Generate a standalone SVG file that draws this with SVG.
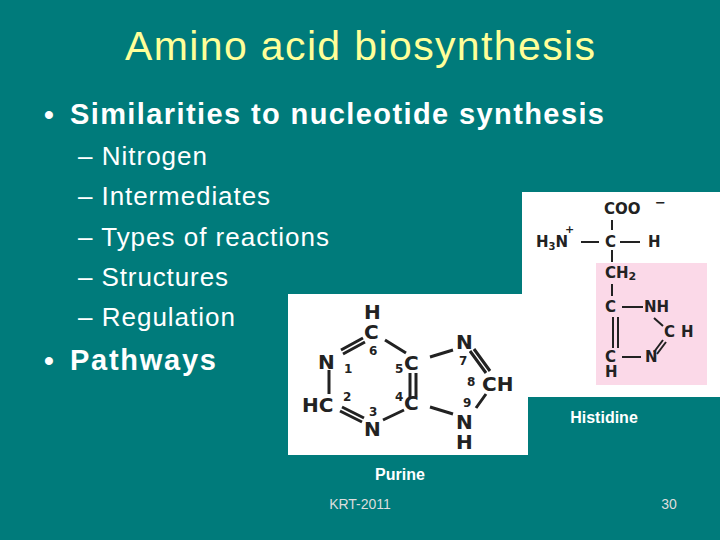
<svg xmlns="http://www.w3.org/2000/svg" width="720" height="540" viewBox="0 0 720 540">
<style>
.t{font-family:"Liberation Sans",Arial,sans-serif}
.w{fill:#fff}
.m{font-family:"DejaVu Sans",sans-serif;font-weight:bold;fill:#222}
.b{stroke:#222;stroke-width:3;fill:none}
.h{stroke:#222;stroke-width:2;fill:none}
</style>
<rect width="720" height="540" fill="#007b7b"/>
<text class="t" x="125" y="60" textLength="470" font-size="41" fill="#ffff99">Amino acid biosynthesis</text>
<g class="t w">
<text x="44" y="124" font-size="28" font-weight="bold">•</text>
<text x="70" y="124" font-size="29" font-weight="bold" textLength="534">Similarities to nucleotide synthesis</text>
<text x="78" y="165" font-size="26" textLength="129">– Nitrogen</text>
<text x="78" y="205" font-size="26" textLength="192">– Intermediates</text>
<text x="78" y="246" font-size="26" textLength="251">– Types of reactions</text>
<text x="78" y="286" font-size="26" textLength="150">– Structures</text>
<text x="78" y="326" font-size="26" textLength="157">– Regulation</text>
<text x="44" y="370" font-size="28" font-weight="bold">•</text>
<text x="70" y="370" font-size="29" font-weight="bold" textLength="146">Pathways</text>
</g>
<g id="histidine">
<rect x="522" y="192" width="198" height="205" fill="#fff"/>
<rect x="596" y="263" width="111" height="122" fill="#fbd9e8"/>
<g class="m" font-size="15">
<text x="604" y="214">COO</text><text x="655" y="207" font-size="13">−</text>
<text x="536" y="247">H<tspan font-size="10" dy="3">3</tspan><tspan dy="-3">N</tspan></text><text x="565" y="233" font-size="11">+</text>
<text x="605" y="247">C</text><text x="648" y="247">H</text>
<text x="605" y="278">CH<tspan font-size="11" dy="2">2</tspan></text>
<text x="605" y="312">C</text><text x="644" y="312">NH</text>
<text x="664" y="337">C</text><text x="681" y="337">H</text>
<text x="605" y="362">C</text><text x="645" y="362">N</text>
<text x="605" y="377">H</text>
</g>
<g class="h">
<path d="M612 220V230M581 242H599M620 242H640M612 250V262M612 284V296M622 307H643M613 317V348M618 317V348M622 357H641M654 318L663 326M654 352L663 340M657 354L666 342"/>
</g>
</g>
<g id="purine">
<rect x="288" y="294" width="240" height="161" fill="#fff"/>
<g class="m" font-size="20">
<text x="364" y="319">H</text><text x="364" y="339">C</text>
<text x="318" y="369">N</text>
<text x="404" y="370">C</text>
<text x="456" y="349">N</text>
<text x="482" y="391">CH</text>
<text x="302" y="412">HC</text>
<text x="404" y="410">C</text>
<text x="364" y="436">N</text>
<text x="456" y="429">N</text>
<text x="456" y="449">H</text>
</g>
<g class="m" font-size="12">
<text x="369" y="355">6</text><text x="344" y="373">1</text><text x="395" y="373">5</text>
<text x="459" y="365">7</text><text x="467" y="386">8</text>
<text x="343" y="401">2</text><text x="395" y="401">4</text>
<text x="369" y="416">3</text><text x="463" y="407">9</text>
</g>
<g class="b">
<path d="M341 350L363 338M343 354L365 342M385 340L406 353M329 370V394M340 411L362 422M342 407L364 418M383 420L404 410M410 373V397M416 373V397M430 357L453 350M430 407L453 414M470 351L486 373M474 349L490 371M476 408L486 394"/>
</g>
</g>
<g class="t">
<text x="604" y="423" font-size="16" font-weight="bold" text-anchor="middle" fill="#fff">Histidine</text>
<text x="400" y="480" font-size="16" font-weight="bold" text-anchor="middle" fill="#fff">Purine</text>
<text x="360" y="509" font-size="14" text-anchor="middle" fill="#ddd">KRT-2011</text>
<text x="669" y="509" font-size="14" text-anchor="middle" fill="#ddd">30</text>
</g>
</svg>
